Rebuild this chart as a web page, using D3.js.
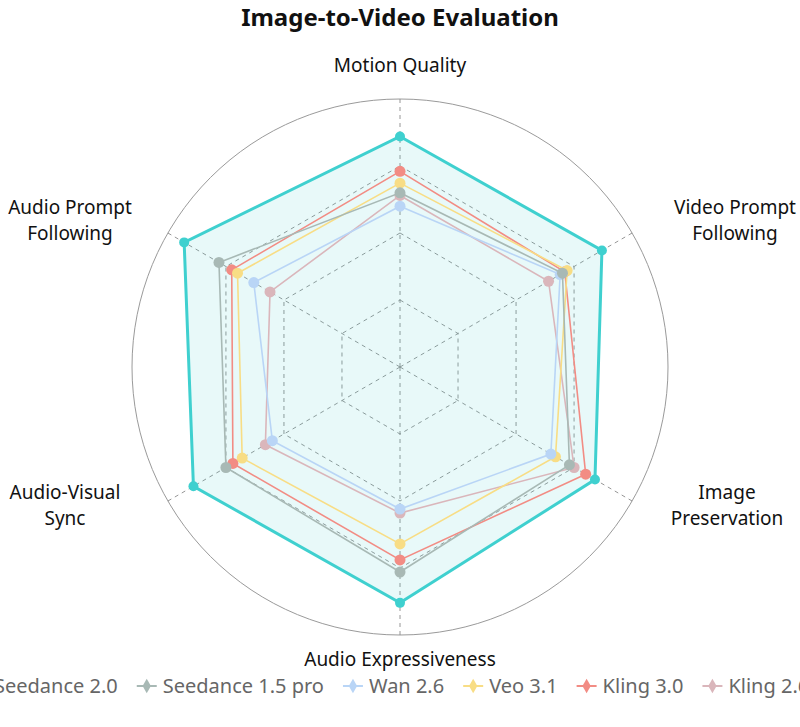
<!DOCTYPE html>
<html><head><meta charset="utf-8">
<script src="https://cdn.jsdelivr.net/npm/d3@7"></script>
<style>body{margin:0;background:#fff}svg{display:block;font-family:"Noto Sans",sans-serif}</style>
</head><body><div id="chart"></div>
<script>
"use strict";
const axesLabels = [["Motion Quality"],["Video Prompt","Following"],["Image","Preservation"],["Audio Expressiveness"],["Audio-Visual","Sync"],["Audio Prompt","Following"]];
const seriesNames = ["Seedance 2.0","Seedance 1.5 pro","Wan 2.6","Veo 3.1","Kling 3.0","Kling 2.6"];
const seriesColors = ["#3fd0cf","#a8b9b5","#b9d5f6","#f8dd85","#f28c84","#dab6bb"];
const seedance20 = [86,87,84,88,89,93];
const seedance15 = [65,70,73,76.5,75,78];
const wan26 = [60,69,65,53,55,63];
const veo31 = [68.6,72,67,66,68,70];
const kling30 = [73,71,80,72,72,72.5];
const kling26 = [64,64,75,54.5,58,56];
const seriesValues = [seedance20,seedance15,wan26,veo31,kling30,kling26];
const gridLevels = [25,50,75];

const W=800,H=727,cx=400,cy=367,R=268;
const svg=d3.select("#chart").append("svg").attr("width",W).attr("height",H);
const r=d3.scaleLinear().domain([0,100]).range([0,R]);
const ang=i=>i*Math.PI/3;
const pt=(v,i)=>[cx+r(v)*Math.sin(ang(i)),cy-r(v)*Math.cos(ang(i))];

/* ── Title ── */
svg.append("text").attr("x",400).attr("y",26).attr("text-anchor","middle")
  .attr("font-size","24px").attr("font-weight","700").attr("fill","#111").text("Image-to-Video Evaluation");

/* ── Grid ── */
svg.append("circle").attr("cx",cx).attr("cy",cy).attr("r",R).attr("fill","none").attr("stroke","#9a9a9a").attr("stroke-width",1);
gridLevels.forEach(l=>{
  svg.append("polygon").attr("points",axesLabels.map((_,i)=>pt(l,i).join(",")).join(" "))
    .attr("fill","none").attr("stroke","#8a8a8a").attr("stroke-dasharray","4,4").attr("stroke-width",0.9);
});
axesLabels.forEach((_,i)=>{
  const [x,y]=pt(101.5,i);
  svg.append("line").attr("x1",cx).attr("y1",cy).attr("x2",x).attr("y2",y)
    .attr("stroke","#8a8a8a").attr("stroke-dasharray","4,4").attr("stroke-width",0.9);
});

/* ── Series ── */
const line=d3.line().curve(d3.curveLinearClosed);
svg.append("path").attr("d",line(seedance20.map(pt))).attr("fill","#3fd0cf").attr("fill-opacity",0.12).attr("stroke","none");
for(let s=seriesValues.length-1;s>=0;s--){
  const g=svg.append("g");
  const pts=seriesValues[s].map(pt);
  g.append("path").attr("d",line(pts)).attr("fill","none").attr("stroke",seriesColors[s]).attr("stroke-width",s===0?3:1.6);
  g.selectAll("circle").data(pts).join("circle").attr("cx",d=>d[0]).attr("cy",d=>d[1]).attr("r",s===0?5:5.5).attr("fill",seriesColors[s]);
}

/* ── Axis labels ── */
const labelPos=[[400,72],[735,214],[727,499],[400,666],[65,499],[70,214]];
axesLabels.forEach((lines,i)=>{
  const t=svg.append("text").attr("text-anchor","middle").attr("font-size","19px").attr("fill","#111");
  lines.forEach((s,k)=>t.append("tspan").attr("x",labelPos[i][0]).attr("y",labelPos[i][1]+k*26).text(s));
});

/* ── Legend ── */
const leg=svg.append("g");
let x=0;
seriesNames.forEach((n,i)=>{
  const g=leg.append("g").attr("transform",`translate(${x},0)`);
  g.append("line").attr("x1",-10).attr("x2",10).attr("stroke",seriesColors[i]).attr("stroke-width",2);
  g.append("path").attr("d",d3.symbol(d3.symbolDiamond,60)()).attr("fill",seriesColors[i]);
  const t=g.append("text").attr("x",16).attr("y",7).attr("font-size","20px").attr("fill","#666").text(n);
  x+=16+t.node().getComputedTextLength()+29;
});
leg.attr("transform",`translate(${-22},686)`);
</script></body></html>
